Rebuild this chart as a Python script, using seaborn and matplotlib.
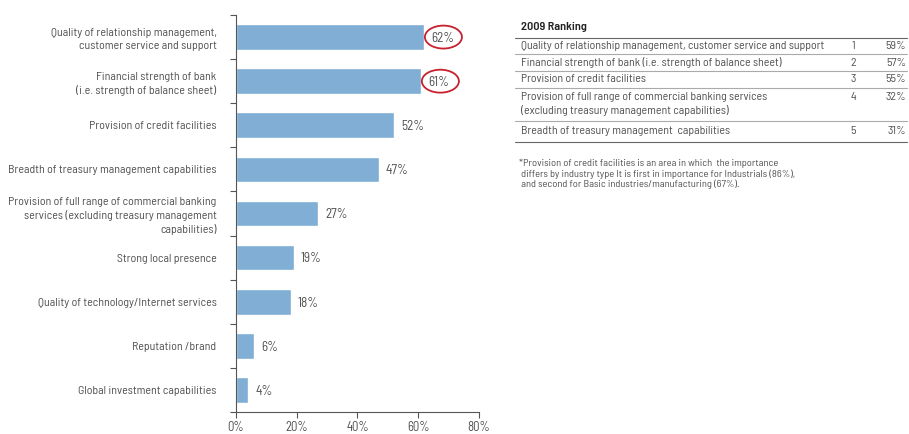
import matplotlib
matplotlib.use("Agg")
import matplotlib.pyplot as plt
import seaborn as sns
import pandas as pd
from matplotlib.patches import Ellipse
from matplotlib.lines import Line2D
from matplotlib.ticker import FixedLocator, PercentFormatter

# chart data
factors = [
    "Quality of relationship management,\ncustomer service and support",
    "Financial strength of bank\n(i.e. strength of balance sheet)",
    "Provision of credit facilities",
    "Breadth of treasury management capabilities",
    "Provision of full range of commercial banking\nservices (excluding treasury management\ncapabilities)",
    "Strong local presence",
    "Quality of technology/Internet services",
    "Reputation /brand",
    "Global investment capabilities",
]
shares = [62, 61, 52, 47, 27, 19, 18, 6, 4]
circled = [0, 1]

# 2009 ranking table
rank_title = "2009 Ranking"
rank_items = [
    "Quality of relationship management, customer service and support",
    "Financial strength of bank (i.e. strength of balance sheet)",
    "Provision of credit facilities",
    "Provision of full range of commercial banking services\n(excluding treasury management capabilities)",
    "Breadth of treasury management  capabilities",
]
rank_pos = [1, 2, 3, 4, 5]
rank_share = ["59%", "57%", "55%", "32%", "31%"]
footnote = ("*Provision of credit facilities is an area in which  the importance\n"
            " differs by industry type It is first in importance for Industrials (86%),\n"
            " and second for Basic industries/manufacturing (67%).")

sns.set_style("white")
plt.rcParams['font.family'] = ['Barlow Semi Condensed', 'DejaVu Sans']
text_col = "#505050"
axis_col = "#555555"

df = pd.DataFrame({"factor": factors, "share": shares})

fig = plt.figure(figsize=(9.09, 4.34), dpi=100)
ax = fig.add_axes([0.2596, 0.0507, 0.2673, 0.9147])
sns.barplot(data=df, x="share", y="factor", color="#80aed4", saturation=1,
            width=0.58, ax=ax)

ax.set_xlim(0, 80)
ax.set_ylim(len(factors) - 0.5, -0.5)
ax.set_xticks([0, 20, 40, 60, 80])
ax.xaxis.set_major_formatter(PercentFormatter(decimals=0))
ax.set_xlabel("")
ax.set_ylabel("")
ax.tick_params(axis="x", length=4, width=0.8, color=axis_col, labelsize=9.2,
               labelcolor=text_col, pad=2.5, bottom=True)
ax.tick_params(axis="y", which="major", length=0, pad=14, labelsize=8.6,
               labelcolor=text_col)
ax.yaxis.set_minor_locator(FixedLocator([i - 0.5 for i in range(len(factors) + 1)]))
ax.tick_params(axis="y", which="minor", length=4, width=0.8, color=axis_col, left=True)
for lab in ax.get_yticklabels():
    lab.set_horizontalalignment("right")
    lab.set_multialignment("right")
    lab.set_linespacing(1.35)

sns.despine(ax=ax)
for s in ["left", "bottom"]:
    ax.spines[s].set_color(axis_col)
    ax.spines[s].set_linewidth(0.8)

for i, v in enumerate(shares):
    ax.text(v + 2.3, i + 0.03, f"{v}%", va="center", ha="left", fontsize=9.5,
            color=text_col)
    if i in circled:
        ax.add_patch(Ellipse((v + 6.3, i), 12.2, 0.52, fill=False,
                             edgecolor="#c8202f", linewidth=1.3, clip_on=False))

# ranking table drawn in figure coordinates
W, H = 909.0, 434.0
def fx(px):
    return px / W
def fy(py):
    return 1 - py / H

fig.text(fx(521), fy(27), rank_title, fontsize=8.8, color="#222222",
         va="center", ha="left", fontweight="semibold")
line_y = [38, 54, 71, 88, 121, 142]
for k, ly in enumerate(line_y):
    col = "#666666" if k in (0, len(line_y) - 1) else "#aaaaaa"
    fig.add_artist(Line2D([fx(515), fx(907)], [fy(ly), fy(ly)], color=col, lw=0.8))
row_y = [46, 63, 79, 104, 131]
for item, pos, share, ry in zip(rank_items, rank_pos, rank_share, row_y):
    fig.text(fx(521), fy(ry), item, fontsize=8.5, color=text_col, va="center",
             ha="left", linespacing=1.3)
    top = ry - 7 if "\n" in item else ry
    fig.text(fx(853), fy(top), str(pos), fontsize=8.5, color=text_col,
             va="center", ha="center")
    fig.text(fx(906), fy(top), share, fontsize=8.5, color=text_col,
             va="center", ha="right")

fig.text(fx(519), fy(174), footnote, fontsize=7.5, color=text_col, va="center",
         ha="left", linespacing=1.15)

fig.savefig("out.png", dpi=100)
